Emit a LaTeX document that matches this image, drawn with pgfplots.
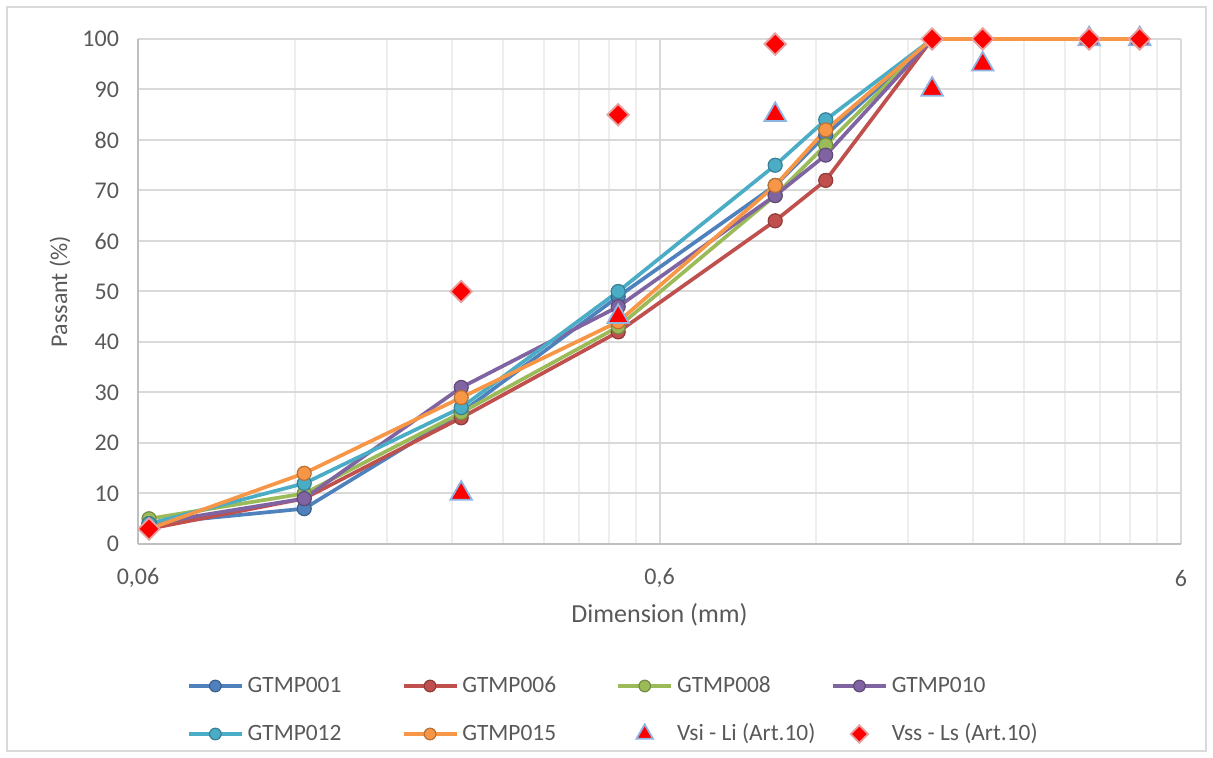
\documentclass[border=0pt]{standalone}
\usepackage{pgfplots}
\pgfplotsset{compat=1.18}
\usepackage{fontspec}
\setmainfont{Carlito}
\definecolor{cblue}{HTML}{4F81BD}
\definecolor{cred}{HTML}{C0504D}
\definecolor{cgreen}{HTML}{9BBB59}
\definecolor{cpurple}{HTML}{8064A2}
\definecolor{ccyan}{HTML}{4BACC6}
\definecolor{corange}{HTML}{F79646}
\definecolor{textc}{HTML}{595959}
\definecolor{gridc}{HTML}{D9D9D9}
\definecolor{minorc}{HTML}{EEEEEE}
\definecolor{axisc}{HTML}{BFBFBF}
\definecolor{bordc}{HTML}{D9D9D9}
\definecolor{triedge}{HTML}{8EB4E3}
\definecolor{diaedge}{HTML}{E6A0A0}

\pgfplotstableread{
x     a   b   c   d   e   f
0.063 4   3   5   4   4   3
0.125 7   9   10  9   12  14
0.25  26  25  26  31  27  29
0.5   49  42  43  47  50  44
1     71  64  69  69  75  71
1.25  81  72  79  77  84  82
2     100 100 100 100 100 100
2.5   100 100 100 100 100 100
4     100 100 100 100 100 100
5     100 100 100 100 100 100
}\gtmp

\pgfplotstableread{
x     y
0.25  10
0.5   45
1     85
2     90
2.5   95
4     100
5     100
}\vsi

\pgfplotstableread{
x     y
0.063 3
0.25  50
0.5   85
1     99
2     100
2.5   100
4     100
5     100
}\vss

\pgfplotsset{
  ser/.style={line width=1.85pt, color=#1, mark=*, mark size=3.5pt,
    mark options={fill=#1, draw=#1!75!black, line width=0.6pt}},
  lineleg/.style={legend image code/.code={\draw[mark repeat=2,mark phase=2,##1, mark size=2.9pt] plot coordinates {(0pt,0pt) (13.25pt,0pt) (26.5pt,0pt)};}},
  markleg/.style={legend image code/.code={\draw[##1, mark size=#1] plot coordinates {(13.25pt,0pt)};}},
}

\begin{document}
\begin{tikzpicture}
\useasboundingbox (-69pt,-107pt) rectangle (537.5pt,272pt);
\draw[bordc, line width=1pt] (-65.5pt,-103.5pt) rectangle (534pt,268.5pt);
\begin{axis}[
  scale only axis, width=521.5pt, height=252.5pt,
  xmode=log, log basis x=10,
  xmin=0.06, xmax=6, ymin=0, ymax=100,
  clip=false,
  xtick={0.06,0.6,6}, xticklabels={{0,06},{0,6},{6}},
  minor xtick={0.12,0.18,0.24,0.3,0.36,0.42,0.48,0.54,1.2,1.8,2.4,3,3.6,4.2,4.8,5.4},
  ytick={0,10,...,100},
  grid=both,
  major grid style={draw=gridc, line width=1pt},
  minor grid style={draw=minorc, line width=1pt},
  axis x line*=bottom, axis y line*=left,
  axis line style={draw=axisc, line width=1pt},
  tick style={draw=none}, major tick length=0pt, minor tick length=0pt,
  ticklabel style={font=\fontsize{12}{14}\selectfont, text=textc},
  xticklabel style={anchor=center, yshift=-17pt},
  yticklabel style={anchor=east, xshift=-6pt},
  /pgf/number format/assume math mode=true,
  every axis x label/.style={at={(axis description cs:0.5,0)}, anchor=center, yshift=-35.5pt, font=\fontsize{13}{15}\selectfont, text=textc},
  every axis y label/.style={at={(axis description cs:0,0.5)}, anchor=center, rotate=90, yshift=39pt, font=\fontsize{12}{14}\selectfont, text=textc},
  xlabel={Dimension (mm)},
  ylabel={Passant (\%)},
  legend columns=4,
  legend cell align=left,
  lineleg,
  legend style={at={(0,0)}, anchor=north west, xshift=24.5pt, yshift=-65pt,
    draw=none, fill=none, inner sep=0pt, outer sep=0pt, row sep=12pt,
    nodes={inner sep=1pt, text height=8pt, text depth=2pt, font=\fontsize{11.7}{13.5}\selectfont, text=textc},
    /tikz/every odd column/.append style={column sep=1pt},
    /tikz/every even column/.append style={column sep=26pt}},
]
\addplot[ser=cblue] table[x=x,y=a] {\gtmp};
\addlegendentry{\makebox[50pt][l]{GTMP001}}
\addplot[ser=cred] table[x=x,y=b] {\gtmp};
\addlegendentry{\makebox[50pt][l]{GTMP006}}
\addplot[ser=cgreen] table[x=x,y=c] {\gtmp};
\addlegendentry{\makebox[50pt][l]{GTMP008}}
\addplot[ser=cpurple] table[x=x,y=d] {\gtmp};
\addlegendentry{\makebox[50pt][l]{GTMP010}}
\addplot[ser=ccyan] table[x=x,y=e] {\gtmp};
\addlegendentry{\makebox[50pt][l]{GTMP012}}
\addplot[ser=corange] table[x=x,y=f] {\gtmp};
\addlegendentry{\makebox[50pt][l]{GTMP015}}
\addplot[only marks, mark=triangle*, mark size=6.2pt,
  mark options={fill=red, draw=triedge, line width=0.9pt},
  markleg=4.8pt] table[x=x,y=y] {\vsi};
\addlegendentry{\makebox[50pt][l]{Vsi - Li (Art.10)}}
\addplot[only marks, mark=square*, mark size=3.8pt,
  mark options={fill=red, draw=diaedge, line width=0.9pt, rotate=45},
  markleg=3.1pt] table[x=x,y=y] {\vss};
\addlegendentry{\makebox[50pt][l]{Vss - Ls (Art.10)}}
\end{axis}
\end{tikzpicture}
\end{document}
